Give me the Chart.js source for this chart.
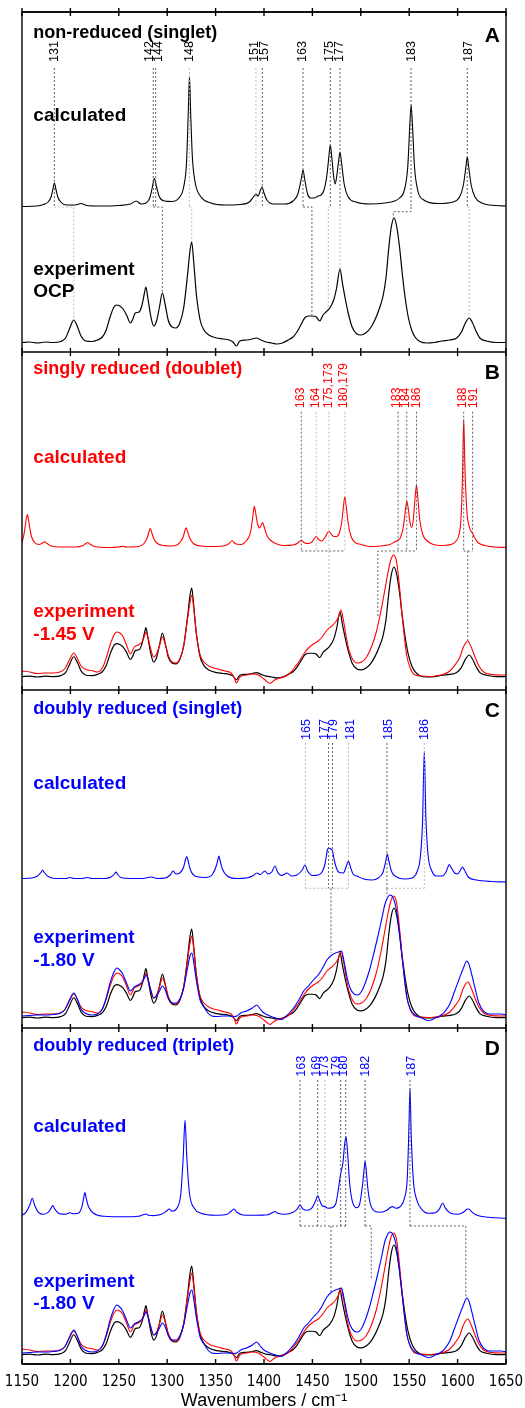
<!DOCTYPE html>
<html>
<head>
<meta charset="utf-8">
<script src="https://cdn.jsdelivr.net/npm/chart.js@4.4.0/dist/chart.umd.min.js"></script>
<style>
  html, body { margin: 0; padding: 0; background: #fff; }
  #wrap { width: 525px; height: 1408px; }
</style>
</head>
<body>
<div id="wrap"><canvas id="spectra" width="525" height="1408"></canvas></div>
<script>
// x: wavenumber (cm-1), y: intensity (arbitrary units)

// calculated spectra
const calcNonReduced = [[1150,0.5],[1165,1],[1172,2.5],[1177,5],[1180,10],[1182,18],[1183.4,24],[1185,18],[1187,10],[1190,5],[1196,2],[1205,2],[1211,3.5],[1217,1.5],[1230,1],[1250,1.5],[1262,3],[1268,6],[1273,3],[1278,4],[1282,9],[1284.5,19],[1286.7,28.5],[1289,20],[1292,10],[1297,6],[1305,5.5],[1312,9],[1317,20],[1320,45],[1321.8,95],[1323,131],[1324.2,95],[1326,50],[1329,24],[1335,10],[1345,4],[1360,2],[1375,2.5],[1385,5],[1389,10],[1391.7,12.5],[1394,11],[1396,16],[1398,20],[1400,14],[1403,7],[1410,3],[1422,3],[1430,6],[1435,13],[1438.5,28],[1440.3,37],[1442,28],[1445,13],[1448,9],[1452,9],[1456,11],[1459,12],[1462,17],[1465,32],[1467.3,53],[1468.5,62],[1470,50],[1472,30],[1473.5,23],[1475,30],[1477.2,47],[1478.5,55],[1480,45],[1483,22],[1487,10],[1495,5],[1510,3],[1525,4],[1535,6],[1540,9],[1545,17],[1548.5,40],[1550.8,85],[1552,102],[1553.2,85],[1555.5,40],[1559,16],[1565,7],[1580,3.5],[1595,5],[1602,10],[1606,22],[1608.8,42],[1610,50],[1611.2,42],[1614,22],[1618,10],[1625,4],[1640,1.5],[1650,1]];

const calcSingly = [[1150,6],[1152,14],[1154,27],[1155.5,34],[1157,27],[1159.5,13],[1163,6],[1168,4],[1171,5.5],[1173.5,6.7],[1176,5],[1180,2.5],[1190,1.5],[1205,1.5],[1213,3],[1216,5],[1218,6],[1220,4.5],[1225,2],[1240,1],[1250,1.5],[1254,2.3],[1258,1.5],[1263,1.5],[1266,1.7],[1270,2],[1276,5],[1279.5,11],[1281.3,17],[1282.5,20],[1283.7,17],[1286,10],[1290,5],[1296,3],[1302,2.5],[1306.5,2.7],[1310,3.5],[1314,7],[1317,13],[1318.3,18],[1319.5,20.7],[1320.7,18],[1323,11],[1327,5],[1335,2.5],[1350,2],[1360,3],[1364,5],[1367,7.7],[1370,5],[1376,4],[1382,8],[1386,16],[1388.6,33],[1390,42.3],[1391.3,36],[1393.5,24],[1395.3,20.5],[1397,23],[1398.5,26],[1400,22],[1403,13],[1407,8],[1412,5],[1420,3],[1430,3.5],[1435,5.5],[1438.5,8.3],[1442,5.5],[1446,5],[1450,7],[1452.5,10.5],[1454,12.3],[1456,9.5],[1459.5,7.5],[1463,11],[1465.5,15.5],[1467,17.3],[1469,15],[1472,12],[1475,12],[1478,16],[1480.5,28],[1482.3,44],[1483.5,51.7],[1484.7,44],[1487,25],[1490,12],[1494,6],[1498.5,4.5],[1502,3.5],[1510,2],[1520,2.5],[1530,4],[1535,6.5],[1538.5,8.3],[1541,11],[1544,22],[1546.3,40],[1547.5,47.3],[1549,40],[1551,25],[1552.5,21],[1554,27],[1556.2,52],[1557.5,63.3],[1558.8,52],[1561,28],[1564,14],[1568,8],[1575,4],[1583,3],[1588,3.3],[1593,4],[1598,7],[1601.5,14],[1603.5,30],[1605,70],[1606.3,129],[1607.6,80],[1609.5,38],[1612,22],[1614,17],[1615.5,15],[1617.5,11],[1621,6],[1628,3],[1638,1.5],[1650,1]];

const calcDoublySinglet = [[1150,3.5],[1160,4],[1166,6],[1169.5,9.5],[1171.3,12],[1173,9.5],[1177,5.5],[1185,3.5],[1195,3.5],[1199.6,4.5],[1204,3.5],[1212,3.5],[1217.5,4.5],[1222,3.5],[1235,3.5],[1242,5],[1245.5,8],[1247,10],[1248.5,8],[1252,4.5],[1262,3.5],[1275,3.5],[1283,5],[1290,3.5],[1298,4],[1303,7],[1306.3,11],[1309,8],[1313,9],[1317,15],[1319,23],[1320.2,25.5],[1321.4,22],[1324,12],[1330,5.5],[1340,4.5],[1347,8],[1351,17],[1352.5,23],[1353.5,26],[1354.5,22],[1357,13],[1362,6],[1372,3.5],[1382,4],[1389,6.5],[1392.5,9],[1396,7.5],[1401,11],[1404,8],[1408,10],[1411.4,16],[1414,10],[1418,6.5],[1424,9],[1428,6],[1434,7],[1439.5,12],[1442.4,17],[1445,11],[1450,6.5],[1456,7],[1460,10],[1463,18],[1465.5,32],[1467,34],[1469,33],[1470.8,31],[1473,20],[1477,10],[1482,9],[1485.5,17],[1487.2,21],[1489,16],[1492,8],[1496,6],[1503,3],[1512,2],[1518,4],[1523,10],[1525.8,21],[1527.4,28],[1529,21],[1532,10],[1537,5],[1545,3],[1553,4],[1558,10],[1561.5,25],[1563.8,60],[1565.6,131],[1567.2,65],[1569.5,27],[1573,12],[1578,6],[1584,6],[1588,10],[1590,15],[1591.5,17.5],[1593,15],[1597,9],[1600,8],[1603,12],[1605,15],[1607,12],[1611,5],[1620,2],[1635,0.5],[1650,0]];

const calcDoublyTriplet = [[1150,3],[1154,6],[1158,13],[1160.7,20],[1163,13],[1167,6],[1172,4],[1177,6],[1180,10],[1181.7,12.7],[1184,9],[1189,4.5],[1195,4],[1199.6,5.5],[1203,4.5],[1208,5],[1212,12],[1213.8,21],[1215,26],[1216.3,20],[1219,11],[1224,5],[1235,2],[1255,1.5],[1270,2],[1275,3.5],[1278,4.3],[1281,3],[1286,2.7],[1289,3],[1294,4],[1299,7],[1302,9.3],[1305,7],[1310,10],[1314,24],[1316.5,60],[1318.4,98],[1320.3,60],[1323,25],[1328,10],[1335,5],[1350,3],[1362,4],[1366,7],[1369,9.3],[1372,6],[1380,3],[1392,3],[1399.3,3.2],[1404,3.5],[1408.5,5.5],[1411.4,6.8],[1414,5],[1422,4],[1430,6],[1434.5,9.5],[1437.2,13.3],[1440,9.5],[1445,8],[1450,11],[1453.5,18],[1455.5,22.7],[1457.5,18],[1460,12.5],[1463,11.7],[1466,10],[1470,10.5],[1474,14],[1477,30],[1479.2,45],[1481.5,55],[1483.3,74],[1484.7,81.7],[1486.2,68],[1488.5,35],[1491,18],[1495.8,10.5],[1499,15],[1502,35],[1503.5,50],[1504.4,56.7],[1505.4,50],[1507.5,28],[1510,14],[1514.7,7],[1520,6],[1527,8],[1530,10.5],[1533,11.7],[1536,10],[1541,12],[1545,20],[1548,40],[1549.7,90],[1550.8,130],[1552,85],[1554.3,38],[1558,18],[1563,9],[1570,5],[1577,5.5],[1581,9],[1584.6,15],[1587.5,10],[1593,5],[1600,4],[1606,6],[1609.5,9],[1611.8,9.3],[1614,7],[1620,3],[1632,1],[1650,0]];

// experimental spectra
const expOCP = [[1150,0.5],[1158,1],[1166,0],[1174,1],[1182,0.5],[1190,1.5],[1195,5],[1199,14],[1203.5,23],[1207,17],[1211,7],[1216,2],[1222,1.5],[1228,3],[1233,6],[1237,13],[1241,26],[1245,36],[1248,38],[1251,37],[1254.5,34],[1258,28],[1262,20],[1264.5,24],[1267,30],[1271,31],[1274,38],[1276.5,50],[1278,56],[1280,45],[1283,27],[1286,17],[1289,22],[1292,36],[1295,50],[1298,38],[1301,23],[1305,16],[1309,15],[1313,20],[1317,35],[1321,68],[1323.5,92],[1325.3,101],[1327.5,80],[1330,50],[1334,23],[1338,13],[1343,8],[1351,5],[1358,4],[1364,3],[1368,1],[1371.5,-3],[1375,2],[1382,3],[1388,4],[1392,5],[1397,3],[1402,1],[1408,0],[1413,-1],[1419,0],[1425,3],[1430,6],[1434,11],[1438,18],[1442,25],[1446,27],[1450,27],[1454,26],[1457.5,22],[1461,28],[1464,31],[1468,35],[1472,43],[1475,55],[1478.5,74],[1481,60],[1484,44],[1487,30],[1491,16],[1496,9],[1500,8],[1505,10],[1510,15],[1515,24],[1519,34],[1523,47],[1526,65],[1529,96],[1531.5,116],[1534.3,125],[1537,117],[1540,96],[1543,68],[1546,44],[1549,26],[1552.5,13],[1556,6],[1561,1.5],[1568,0],[1576,0.5],[1584,2],[1592,3],[1599,5],[1604,11],[1608,20],[1612,25],[1615,21],[1619,12],[1623,5],[1630,2],[1640,0.5],[1650,0.5]];

const exp145V = [[1150,6],[1158,5],[1166,3.5],[1174,4],[1182,4],[1189,5],[1194,8],[1199,17],[1203.5,24],[1207,19],[1211,11],[1216,7.5],[1222,6.5],[1228,5],[1233,9],[1237,19],[1241,32],[1245,42],[1248,45],[1251,44],[1254,41],[1258,32],[1262,23],[1266,30],[1270,32],[1274,35],[1276.5,41],[1278,45],[1280,40],[1283,28],[1286,20],[1289,23],[1292,31],[1295,40],[1298,33],[1301,22],[1305,15],[1309,14],[1313,18],[1317,31],[1321,58],[1323.5,74],[1325.5,82],[1327.5,68],[1330,45],[1334,22],[1338,15],[1345,10],[1352,8],[1360,6],[1366,4],[1369,0],[1371.5,-6],[1375,0],[1382,2],[1388,3],[1394,2],[1400,-2],[1406,-6.5],[1411,-3],[1417,-1],[1423,1],[1428,5],[1432,10],[1436,15],[1441,23],[1446,29],[1451,33],[1456,36],[1460,40],[1465,47],[1470,51],[1474,55],[1477,60],[1479.5,67],[1482,57],[1485,40],[1488,26],[1492,17],[1496,14],[1501,15],[1506,20],[1511,30],[1516,45],[1521,67],[1525,88],[1528,104],[1531,117],[1534,122],[1537,115],[1540,90],[1542.5,63],[1545,40],[1547.5,21],[1551,9],[1556,2],[1563,1],[1572,0.5],[1580,1.5],[1587,3.3],[1592,6],[1597,11.7],[1602,19],[1606,30],[1610.5,36],[1614,30],[1618,20],[1622,11],[1627,5],[1635,2.5],[1645,2],[1650,2]];

const exp180V = [[1150,2],[1158,2.5],[1166,3],[1174,3],[1182,3.5],[1189,4.5],[1194,8],[1199,18],[1203.5,25],[1207,19],[1211,9],[1216,4.5],[1222,3],[1228,4],[1233,9],[1237,20],[1241,35],[1245,46],[1248,50],[1251,48],[1254,44],[1258,35],[1262,27],[1266,31],[1270,33],[1274,36],[1276.5,40],[1278,43],[1280,39],[1283,28],[1286,20],[1289,22],[1292,27],[1295,32],[1298,28],[1301,20],[1305,15],[1309,15],[1313,19],[1317,30],[1321,50],[1323.5,62],[1325.5,65],[1327.5,55],[1330,38],[1334,18],[1338,11],[1342,5],[1346,2],[1351,1.5],[1358,2],[1364,2],[1369,1.5],[1372,2],[1376,5],[1382,7],[1388,10],[1392.5,13],[1396,9],[1400,5],[1406,2],[1412,0],[1418,-1.5],[1423,2],[1428,7],[1432,12],[1436,18],[1441,27],[1446,32],[1451,38],[1456,43],[1460,49],[1465,58],[1470,63],[1474,65],[1477,66],[1480,67],[1483,55],[1486,40],[1489,30],[1493,24],[1497,23],[1501,27],[1505,36],[1509,48],[1513,63],[1517,79],[1521,96],[1525,114],[1528,121],[1530,123],[1533,121],[1536,112],[1539,92],[1542,66],[1545,40],[1547.5,21],[1551,9],[1556,3],[1563,0],[1570,-2.7],[1577,0],[1583,3],[1587,6.7],[1592,14],[1597,27],[1602,40],[1606,50],[1609.5,57],[1612,53],[1615,42],[1618,30],[1622,15],[1627,6.7],[1635,4],[1645,4],[1650,3]];

// mode labels: text position, line position
const modesA = ['131','142','144','148','151','157','163','175','177','183','187'];
const modeTextA = [1183.4,1282.2,1291.5,1322.8,1390.0,1401.0,1440.0,1467.2,1477.8,1552.6,1611.1];
const modeLineA = [1183.4,1285.6,1288.1,1322.9,1391.7,1398.3,1440.3,1468.5,1478.5,1551.9,1610.0];
const modeToneA = ['d','d','d','l','l','d','d','d','d','d','d'];

const modesB = ['163','164','175,173','180,179','183','184','186','188','191'];
const modeTextB = [1437.5,1453.7,1466.4,1482.3,1536.5,1546.0,1557.8,1605.0,1616.2];
const modeLineB = [1438.5,1454,1467,1483.5,1538.5,1547.5,1557.5,1606.3,1615.5];
const modeToneB = ['d','l','l','l','d','d','d','d','d'];

const modesC = ['165','177','179','181','185','186'];
const modeTextC = [1444.1,1463.0,1471.6,1488.9,1528.4,1566.3];
const modeLineC = [1442.8,1466.7,1470.8,1487.2,1527.0,1565.6];
const modeToneC = ['l','d','d','l','d','l'];

const modesD = ['163','169','173','179','180','182','187'];
const modeTextD = [1438.9,1454.5,1463.0,1475.1,1481.9,1504.4,1552.6];
const modeLineD = [1437.2,1455.5,1463.0,1479.2,1484.4,1504.4,1550.8];
const modeToneD = ['d','d','l','d','d','d','d'];

// connectors from calculated modes down to experimental bands
const linksDark = [
  [[1285.6,1157],[1295,1157],[1295,1071]],
  [[1440.3,1157],[1449.5,1157],[1449.5,1049]],
  [[1551.9,1157],[1551.9,1152.3],[1533.6,1152.3],[1533.6,1146]],
  [[1438.5,813],[1483.5,813]],
  [[1517.6,748],[1517.6,813],[1557.5,813]],
  [[1606.3,813],[1615.5,813]],
  [[1610.5,813],[1610.5,722.3]],
  [[1469.2,475.7],[1469.2,411]],
  [[1527,475.7],[1527,467.3]],
  [[1437.2,138],[1484.4,138]],
  [[1469.2,138],[1469.2,72.3]],
  [[1504.4,138],[1510.8,138],[1510.8,84]],
  [[1550.8,138],[1608.5,138],[1608.5,67.3]]
];
const linksLight = [
  [[1183.4,1157],[1203.5,1157],[1203.5,1044]],
  [[1322.9,1157],[1325.3,1157],[1325.3,1122]],
  [[1468.5,1157],[1466.5,1157],[1466.5,1056]],
  [[1478.5,1157],[1478.5,1095]],
  [[1610,1157],[1612,1157],[1612,1046]],
  [[1467,813],[1467,736]],
  [[1442.8,475.7],[1487.2,475.7]],
  [[1527,475.7],[1565.6,475.7]]
];

const xTicks = [1150,1200,1250,1300,1350,1400,1450,1500,1550,1600,1650];

// ---- layout ----
const panelEdges = [1352, 1012, 674, 336, 0];
const panels = [
  { header: 'non-reduced (singlet)', letter: 'A', color: '#000000', calcBase: 1157, expBase: 1021, ocpScale: 1.0,
    headerY: 1326, letterY: 1321.7, calcY: 1243.3, expY: [1089, 1066.7], expText: ['experiment', 'OCP'],
    labelY: 1302, lineTop: 1296, lineBottom: 1157,
    modes: modesA, modeText: modeTextA, modeLine: modeLineA, tone: modeToneA, calc: calcNonReduced, exps: [] },
  { header: 'singly reduced (doublet)', letter: 'B', color: '#ff0000', calcBase: 815.5, expBase: 687, ocpScale: 0.88,
    headerY: 989.7, letterY: 985, calcY: 901.3, expY: [747.3, 724], expText: ['experiment', '-1.45 V'],
    labelY: 955.7, lineTop: 952.3, lineBottom: 813,
    modes: modesB, modeText: modeTextB, modeLine: modeLineB, tone: modeToneB, calc: calcSingly, exps: ['red'] },
  { header: 'doubly reduced (singlet)', letter: 'C', color: '#0000ff', calcBase: 482, expBase: 346, ocpScale: 0.88,
    headerY: 649.7, letterY: 646.7, calcY: 575, expY: [420.7, 398], expText: ['experiment', '-1.80 V'],
    labelY: 624, lineTop: 621, lineBottom: 475.7,
    modes: modesC, modeText: modeTextC, modeLine: modeLineC, tone: modeToneC, calc: calcDoublySinglet, exps: ['blue', 'red'] },
  { header: 'doubly reduced (triplet)', letter: 'D', color: '#0000ff', calcBase: 145.7, expBase: 9, ocpScale: 0.88,
    headerY: 313.3, letterY: 309, calcY: 232.3, expY: [77.3, 54.7], expText: ['experiment', '-1.80 V'],
    labelY: 287.3, lineTop: 284, lineBottom: 138,
    modes: modesD, modeText: modeTextD, modeLine: modeLineD, tone: modeToneD, calc: calcDoublyTriplet, exps: ['blue', 'red'] }
];

const FONT = '"Liberation Sans", Arial, Helvetica, sans-serif';
const NARROW = '"Liberation Sans Narrow", "Arial Narrow", "DejaVu Sans Condensed", "Liberation Sans", sans-serif';

function shift(pts, base, scale) {
  return pts.map(p => ({ x: p[0], y: base + p[1] * scale }));
}

function joinPaths(paths) {
  const out = [];
  paths.forEach(path => {
    path.forEach(p => out.push({ x: p[0], y: p[1] }));
    out.push({ x: path[path.length - 1][0], y: null });
  });
  return out;
}

// mode label lines from the label down to the calculated baseline
const modeDark = [], modeLight = [];
panels.forEach(p => {
  p.modeLine.forEach((wn, i) => {
    const seg = [[wn, p.lineTop], [wn, p.lineBottom]];
    (p.tone[i] === 'd' ? modeDark : modeLight).push(seg);
  });
});

const datasets = [];
datasets.push({ data: joinPaths(modeLight.concat(linksLight)), borderColor: '#b4b4b4', borderWidth: 0.9, borderDash: [2, 2], tension: 0 });
datasets.push({ data: joinPaths(modeDark.concat(linksDark)), borderColor: '#505050', borderWidth: 0.9, borderDash: [2, 2], tension: 0 });

panels.forEach(p => {
  datasets.push({ data: shift(p.calc, p.calcBase, 1), borderColor: p.color, borderWidth: 1.1, cubicInterpolationMode: 'monotone' });
  if (p.exps.includes('blue')) datasets.push({ data: shift(exp180V, p.expBase, 1), borderColor: '#0000ff', borderWidth: 1.1, cubicInterpolationMode: 'monotone' });
  if (p.exps.includes('red')) datasets.push({ data: shift(exp145V, p.expBase, 1), borderColor: '#ff0000', borderWidth: 1.1, cubicInterpolationMode: 'monotone' });
  datasets.push({ data: shift(expOCP, p.expBase, p.ocpScale), borderColor: '#000000', borderWidth: 1.2, cubicInterpolationMode: 'monotone' });
});

// frame, panel separators, tick marks and all panel texts
const panelDecor = {
  id: 'panelDecor',
  afterDatasetsDraw(chart) {
    const ctx = chart.ctx;
    const xs = chart.scales.x, ys = chart.scales.y;
    const L = xs.getPixelForValue(1150), R = xs.getPixelForValue(1650);
    ctx.save();
    ctx.strokeStyle = '#000';
    ctx.lineWidth = 1.4;
    ctx.strokeRect(L, ys.getPixelForValue(panelEdges[0]), R - L, ys.getPixelForValue(0) - ys.getPixelForValue(panelEdges[0]));
    panelEdges.forEach((e, k) => {
      const y = ys.getPixelForValue(e);
      ctx.beginPath();
      ctx.moveTo(L, y); ctx.lineTo(R, y);
      ctx.stroke();
      xTicks.forEach(t => {
        const x = xs.getPixelForValue(t);
        ctx.beginPath();
        if (k === panelEdges.length - 1) { ctx.moveTo(x, y); ctx.lineTo(x, y - 5); }
        else { ctx.moveTo(x, y - 4); ctx.lineTo(x, y + 4); }
        ctx.stroke();
      });
    });

    const leftX = xs.getPixelForValue(1161.7);
    const letterX = xs.getPixelForValue(1643.8);
    panels.forEach(p => {
      ctx.fillStyle = p.color;
      ctx.textBaseline = 'alphabetic';
      ctx.textAlign = 'left';
      ctx.font = 'bold 18px ' + FONT;
      ctx.fillText(p.header, leftX, ys.getPixelForValue(p.headerY));
      ctx.font = 'bold 19px ' + FONT;
      ctx.fillText('calculated', leftX, ys.getPixelForValue(p.calcY));
      p.expText.forEach((t, i) => ctx.fillText(t, leftX, ys.getPixelForValue(p.expY[i])));
      ctx.fillStyle = '#000';
      ctx.textAlign = 'right';
      ctx.font = 'bold 21px ' + FONT;
      ctx.fillText(p.letter, letterX, ys.getPixelForValue(p.letterY));

      ctx.fillStyle = p.color;
      ctx.font = '12.5px ' + FONT;
      p.modes.forEach((m, i) => {
        ctx.save();
        ctx.translate(xs.getPixelForValue(p.modeText[i]), ys.getPixelForValue(p.labelY));
        ctx.rotate(-Math.PI / 2);
        ctx.textAlign = 'left';
        ctx.textBaseline = 'middle';
        ctx.fillText(m, 0, 0);
        ctx.restore();
      });
    });
    ctx.restore();
  }
};

new Chart(document.getElementById('spectra'), {
  type: 'line',
  data: { datasets: datasets },
  plugins: [panelDecor],
  options: {
    responsive: false,
    animation: false,
    events: [],
    layout: { padding: { left: 22, right: 19, top: 12, bottom: 0 } },
    elements: { point: { radius: 0 }, line: { fill: false, spanGaps: false } },
    plugins: { legend: { display: false }, tooltip: { enabled: false } },
    scales: {
      x: {
        type: 'linear', min: 1150, max: 1650,
        grid: { display: false, drawTicks: false },
        border: { display: false },
        afterBuildTicks: axis => { axis.ticks = xTicks.map(v => ({ value: v })); },
        afterFit: axis => { axis.height = 44; axis.paddingLeft = 0; axis.paddingRight = 0; },
        ticks: { color: '#000', padding: 9, maxRotation: 0, autoSkip: false,
                 callback: v => String(v), font: { family: NARROW, size: 15 } },
        title: { display: true, text: 'Wavenumbers / cm\u207B\u00B9', color: '#000', padding: { top: 0, bottom: -2 }, font: { family: FONT, size: 18, lineHeight: 1.0 } }
      },
      y: { type: 'linear', min: 0, max: 1352, display: false }
    }
  }
});
</script>
</body>
</html>
